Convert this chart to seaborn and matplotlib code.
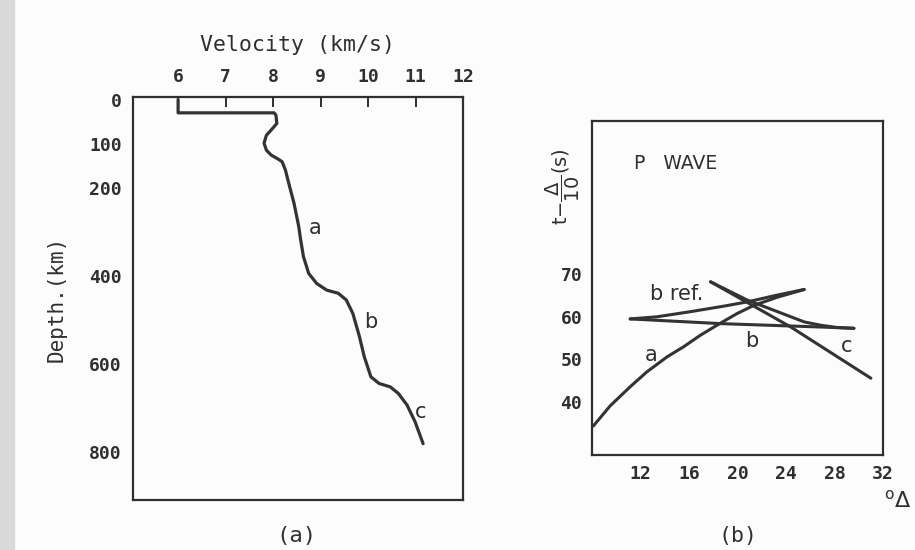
import numpy as np
import pandas as pd
import matplotlib
matplotlib.use("Agg")
import matplotlib.pyplot as plt
import seaborn as sns

# ---- Panel (a): velocity-depth profile ----
velocity = [6.0, 6.0, 8.02, 8.06, 8.08, 7.96, 7.86, 7.81, 7.86, 7.96, 8.09,
            8.19, 8.26, 8.33, 8.44, 8.54, 8.58, 8.64, 8.75, 8.92, 9.13, 9.37,
            9.54, 9.68, 9.82, 9.92, 10.06, 10.23, 10.47, 10.64, 10.82, 10.99,
            11.16]
depth = [0, 30, 30, 35, 54, 69, 81, 99, 115, 126, 134,
         141, 160, 190, 235, 288, 318, 357, 395, 418, 433, 440,
         455, 486, 539, 584, 630, 645, 653, 668, 694, 732,
         782]
vel_ticks = [6, 7, 8, 9, 10, 11, 12]
depth_ticks = [0, 100, 200, 300, 400, 500, 600, 700, 800]
depth_ticklabels = ["0", "100", "200", "", "400", "", "600", "", "800"]
labels_a = ["a", "b", "c"]
labels_a_v = [8.88, 10.06, 11.11]
labels_a_d = [292, 506, 710]

# ---- Panel (b): P-wave reduced travel times ----
a_delta = [8.11, 9.49, 11.15, 12.53, 14.19, 15.57, 16.95, 18.47, 19.99,
           21.37, 23.30, 25.5]
a_t = [34.4, 39.1, 43.6, 47.1, 50.6, 53.0, 55.7, 58.3, 60.8, 62.7, 64.6, 66.4]
bref_delta = [11.15, 13.36, 16.12, 18.88, 20.82, 23.30, 25.5]
bref_t = [59.5, 60.0, 61.2, 62.5, 63.5, 65.1, 66.4]
b_delta = [11.15, 18.6, 26.9, 29.6]
b_t = [59.5, 58.4, 57.6, 57.3]
cref_delta = [17.78, 20.82, 23.30, 25.5, 26.9, 28.2, 29.6]
cref_t = [68.2, 63.9, 61.2, 58.8, 58.0, 57.5, 57.3]
c_delta = [17.78, 24.4, 31.0]
c_t = [68.2, 57.6, 45.6]
delta_ticks = [12, 16, 20, 24, 28, 32]
t_ticks = [40, 50, 60, 70]
labels_b = ["a", "b", "c", "b ref."]
labels_b_delta = [12.9, 21.2, 29.0, 15.0]
labels_b_t = [51.0, 54.3, 53.1, 65.3]

sns.set_theme(style="white")
plt.rcParams["font.family"] = ["DejaVu Sans Mono", "DejaVu Sans"]
plt.rcParams["mathtext.fontset"] = "dejavusans"

INK = "#2f2f2f"
LINE = "#333333"

fig = plt.figure(figsize=(9.15, 5.5), dpi=100, facecolor="#fcfcfc")
W, H = 915, 550

def px_axes(x0, y0, x1, y1):
    return fig.add_axes([x0 / W, 1 - y1 / H, (x1 - x0) / W, (y1 - y0) / H])

# gray scan strip on the left
fig.patches.append(plt.Rectangle((0, 0), 14 / W, 1, transform=fig.transFigure,
                                 color="#d9d9d9", zorder=0))

# ----- left panel -----
ax1 = px_axes(133, 97, 463, 500)
ax1.set_facecolor("#fcfcfc")
df1 = pd.DataFrame({"velocity": velocity, "depth": depth})
sns.lineplot(data=df1, x="velocity", y="depth", sort=False, estimator=None,
             color=LINE, linewidth=2.3, ax=ax1, solid_joinstyle="round")
ax1.set_xlim(5.05, 12.0)
ax1.set_ylim(910, -6)
ax1.xaxis.tick_top()
ax1.xaxis.set_label_position("top")
ax1.set_xticks(vel_ticks)
ax1.set_xticklabels([str(v) for v in vel_ticks])
ax1.set_yticks(depth_ticks)
ax1.set_yticklabels(depth_ticklabels)
ax1.tick_params(axis="both", direction="in", length=7, width=1.4, colors=INK,
                labelsize=13, pad=8)
ax1.tick_params(axis="x", top=True, bottom=False)
for lab in ax1.get_xticklabels() + ax1.get_yticklabels():
    lab.set_fontweight("bold")
ax1.set_xlabel("Velocity (km/s)", fontsize=15.5, color=INK, labelpad=12)
ax1.set_ylabel("Depth.(km)", fontsize=15, color=INK, labelpad=16)
for s in ax1.spines.values():
    s.set_color(INK)
    s.set_linewidth(1.6)
for t, v, d in zip(labels_a, labels_a_v, labels_a_d):
    ax1.text(v, d, t, fontsize=15, color=INK, ha="center", va="center",
             family="DejaVu Sans")

# ----- right panel -----
ax2 = px_axes(592, 121, 883, 455)
ax2.set_facecolor("#fcfcfc")
branches = []
for name, xs, ys in [("a", a_delta, a_t), ("bref", bref_delta, bref_t),
                     ("b", b_delta, b_t), ("cref", cref_delta, cref_t),
                     ("c", c_delta, c_t)]:
    branches.append(pd.DataFrame({"delta": xs, "t": ys, "branch": name}))
df2 = pd.concat(branches, ignore_index=True)
sns.lineplot(data=df2, x="delta", y="t", units="branch", sort=False,
             estimator=None, color=LINE, linewidth=2.2, ax=ax2,
             solid_joinstyle="round")
ax2.set_xlim(8, 32)
ax2.set_ylim(27.6, 105.9)
ax2.set_xticks(delta_ticks)
ax2.set_xticklabels([str(v) for v in delta_ticks])
ax2.set_yticks(t_ticks)
ax2.set_yticklabels([str(v) for v in t_ticks])
ax2.tick_params(axis="both", direction="in", length=7, width=1.4, colors=INK,
                labelsize=13, pad=7)
for lab in ax2.get_xticklabels() + ax2.get_yticklabels():
    lab.set_fontweight("bold")
ax2.set_xlabel("")
ax2.set_ylabel("")
for s in ax2.spines.values():
    s.set_color(INK)
    s.set_linewidth(1.6)
for t, x, y in zip(labels_b, labels_b_delta, labels_b_t):
    ax2.text(x, y, t, fontsize=15, color=INK, ha="center", va="center",
             family="DejaVu Sans")
ax2.text(11.5, 96.0, "P   WAVE", fontsize=13.5, color=INK, ha="left",
         va="center", family="DejaVu Sans")

# y label of right panel (reduced time)
fig.text(563 / W, 1 - 187 / H, r"t$-\dfrac{\Delta}{10}$(s)", rotation=90,
         fontsize=14, color=INK, ha="center", va="center",
         family="DejaVu Sans")
# degree-delta axis label
fig.text(898 / W, 1 - 500 / H, r"$^{\rm o}\Delta$", fontsize=16, color=INK,
         ha="center", va="center", family="DejaVu Sans")

# panel captions
fig.text(296 / W, 1 - 536 / H, "(a)", fontsize=16, color=INK, ha="center",
         va="center")
fig.text(738 / W, 1 - 536 / H, "(b)", fontsize=15.5, color=INK, ha="center",
         va="center")

fig.savefig("out.png", dpi=100, facecolor=fig.get_facecolor())
